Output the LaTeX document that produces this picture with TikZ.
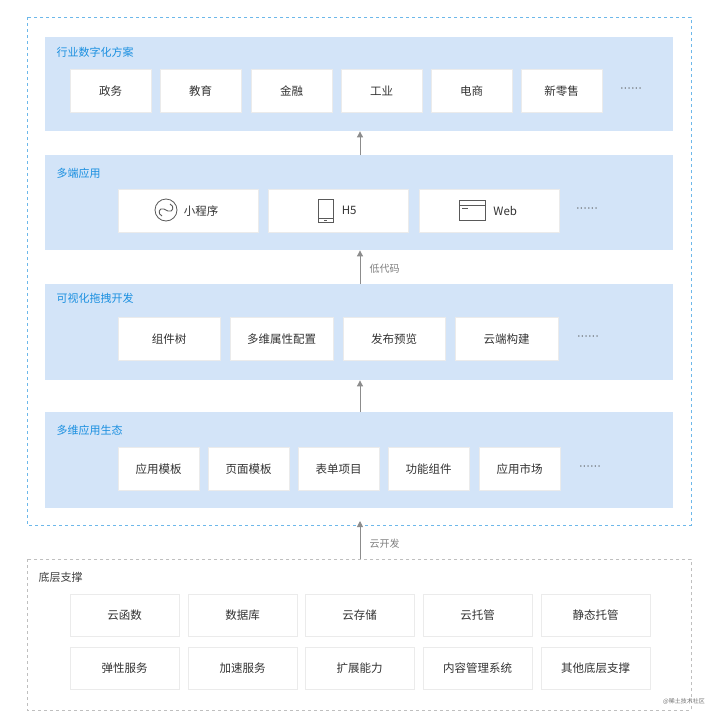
\documentclass[tikz,border=0pt]{standalone}
\usepackage{fontspec}
\setmainfont{Noto Sans CJK SC}
\newfontfamily\dotfont{Liberation Sans}
\usetikzlibrary{shadows,arrows.meta}
\begin{document}
\begin{tikzpicture}[x=1pt,y=-1pt,
 panel/.style={fill=panelc,draw=none},
 card/.style={fill=white,draw=black!8,drop shadow={shadow xshift=0.6pt,shadow yshift=-1.2pt,opacity=0.25},font=\fontsize{11.5}{13}\selectfont,text=black!80,anchor=north west,minimum height=43,inner sep=0},
 ttl/.style={anchor=west,text=titlec,font=\fontsize{11}{13}\selectfont},
 dots/.style={text=black!70,font=\dotfont\fontsize{11}{12}\selectfont},
 arr/.style={draw=black!45,line width=0.9pt,-{Triangle[length=6pt,width=6pt]}},
 lab/.style={text=black!50,anchor=west,font=\fontsize{10}{12}\selectfont}]
\definecolor{panelc}{HTML}{D3E4F8}
\definecolor{titlec}{HTML}{1A8FE0}
\definecolor{dashc}{HTML}{6DB8EA}
\useasboundingbox[fill=white] (0,0) rectangle (720,718);
\draw[draw=dashc,dashed,line width=0.9pt] (27,17) rectangle (691,525);
\draw[draw=black!25,dashed,line width=0.8pt] (27,559) rectangle (691,710);
% panel 1
\node[panel,anchor=north west,minimum width=628,minimum height=94,inner sep=0] (p1) at (45,37) {};
\node[ttl] (t1) at (53,52) {行业数字化方案};
\foreach \n/\x in {政务/70,教育/160,金融/251,工业/341,电商/431,新零售/521}
  \node[card,minimum width=81] (a\x) at (\x,69) {\n};
\node[dots] (d1) at (631,90) {······};
% panel 2
\node[panel,anchor=north west,minimum width=628,minimum height=95,inner sep=0] (p2) at (45,155) {};
\node[ttl] (t2) at (53,173) {多端应用};
\node[card,minimum width=140] (b1) at (118,189) {\hspace{26pt}小程序};
\node[card,minimum width=140] (b2) at (268,189) {\hspace{22pt}H5};
\node[card,minimum width=140] (b3) at (419,189) {\hspace{32pt}Web};
\node[dots] (d2) at (587,210) {······};
% icons
\draw[black!65,line width=0.8pt] (166,210) circle (11);
\draw[black!65,line width=0.9pt] (162,216) .. controls (157,214) and (159,207) .. (164,209) -- (168,211) .. controls (173,213) and (175,206) .. (170,204);
\draw[black!65,line width=0.8pt] (318,199) rectangle (333,222);
\draw[black!65,line width=0.6pt] (318,218) -- (333,218);
\draw[black!65,line width=0.6pt] (324,220) -- (327,220);
\draw[black!65,line width=0.8pt] (459,200) rectangle (485,220);
\draw[black!65,line width=0.6pt] (459,205.5) -- (485,205.5);
\draw[black!65,line width=0.6pt] (462,208.5) -- (468,208.5);
% panel 3
\node[panel,anchor=north west,minimum width=628,minimum height=96,inner sep=0] (p3) at (45,284) {};
\node[ttl] (t3) at (53,298) {可视化拖拽开发};
\node[card,minimum width=102] (c1) at (118,317) {组件树};
\node[card,minimum width=103] (c2) at (230,317) {多维属性配置};
\node[card,minimum width=102] (c3) at (343,317) {发布预览};
\node[card,minimum width=103] (c4) at (455,317) {云端构建};
\node[dots] (d3) at (588,338) {······};
% panel 4
\node[panel,anchor=north west,minimum width=628,minimum height=96,inner sep=0] (p4) at (45,412) {};
\node[ttl] (t4) at (53,430) {多维应用生态};
\foreach \n/\x in {应用模板/118,页面模板/208,表单项目/298,功能组件/388,应用市场/479}
  \node[card,minimum width=81] (e\x) at (\x,447) {\n};
\node[dots] (d4) at (590,468) {······};
% bottom
\node[anchor=west,text=black!75,font=\fontsize{11}{13}\selectfont] (t5) at (35,577) {底层支撑};
\foreach \n/\x in {云函数/70,数据库/188,云存储/305,云托管/423,静态托管/541}
  \node[card,minimum width=109,minimum height=42] (f\x) at (\x,594) {\n};
\foreach \n/\x in {弹性服务/70,加速服务/188,扩展能力/305,内容管理系统/423,其他底层支撑/541}
  \node[card,minimum width=109,minimum height=42] (g\x) at (\x,647) {\n};
\node[text=black!55,font=\fontsize{6}{7}\selectfont] (wm) at (684,701) {@稀土技术社区};
% arrows
\coordinate (o1) at (360,525); \coordinate (o2) at (360,559);
\draw[arr] (p2.north -| 360,0) -- (p1.south -| 360,0);
\draw[arr] (p3.north -| 360,0) -- (p2.south -| 360,0);
\draw[arr] (p4.north -| 360,0) -- (p3.south -| 360,0);
\draw[arr] (o2) -- ([yshift=4]o1);
\node[lab] (l1) at (366,269) {低代码};
\node[lab] (l2) at (366,544) {云开发};
\end{tikzpicture}
\end{document}
